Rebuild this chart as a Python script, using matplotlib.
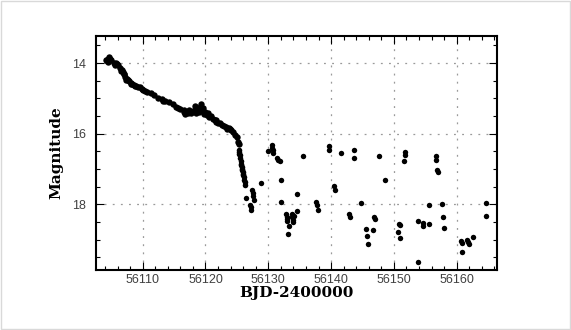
import matplotlib.pyplot as plt
from matplotlib.ticker import MultipleLocator
from matplotlib.patches import Rectangle

# dense part of the light curve (outburst decline)
bjd_dense = [56104.19, 56104.42, 56104.59, 56104.77, 56104.88, 56104.48, 56104.30,
             56105.47, 56105.64, 56105.76, 56106.05, 56105.90,
             56106.34, 56106.63, 56106.80, 56107.03, 56107.21, 56107.50, 56107.79,
             56108.08, 56108.37, 56108.66, 56108.95, 56109.53, 56110.12, 56110.70,
             56111.28, 56111.86, 56112.44, 56113.02, 56113.60, 56114.19, 56114.77,
             56115.35, 56115.93, 56116.51, 56116.80, 56117.09, 56117.38, 56117.67,
             56117.97, 56118.26, 56118.55, 56118.84, 56119.13, 56119.24, 56119.42,
             56119.71, 56120.00, 56120.29, 56120.58, 56120.87, 56121.16, 56121.45,
             56121.74, 56122.03, 56122.33, 56122.62, 56122.91, 56123.20, 56123.49,
             56123.78, 56124.07, 56124.36, 56124.65, 56124.94, 56125.23, 56125.29,
             56116.60, 56117.20, 56118.40, 56118.90, 56119.30, 56119.60, 56120.40,
             56110.40, 56113.30, 56115.60, 56107.40, 56121.60, 56123.90,
             56106.50, 56106.95, 56107.65, 56108.20, 56108.80, 56109.20, 56109.90]
mag_dense = [13.91, 13.87, 13.84, 13.87, 13.90, 13.96, 13.92,
             14.01, 14.04, 14.01, 14.06, 14.03,
             14.15, 14.20, 14.25, 14.31, 14.39, 14.44, 14.50,
             14.56, 14.60, 14.63, 14.65, 14.69, 14.75, 14.81,
             14.86, 14.91, 14.98, 15.03, 15.08, 15.10, 15.16,
             15.24, 15.30, 15.38, 15.43, 15.38, 15.34, 15.41,
             15.35, 15.32, 15.41, 15.29, 15.24, 15.16, 15.34,
             15.43, 15.38, 15.48, 15.52, 15.51, 15.57, 15.62,
             15.67, 15.71, 15.70, 15.76, 15.79, 15.81, 15.86,
             15.83, 15.90, 15.95, 16.05, 16.09, 16.23, 16.30,
             15.33, 15.42, 15.22, 15.38, 15.30, 15.28, 15.42,
             14.78, 15.06, 15.28, 14.47, 15.60, 15.88,
             14.22, 14.30, 14.49, 14.58, 14.64, 14.68, 14.73]

# steep drop
bjd_drop = [56125.30, 56125.35, 56125.40, 56125.47, 56125.52, 56125.58, 56125.64,
            56125.70, 56125.76, 56125.82, 56125.87, 56125.93, 56125.99, 56126.05,
            56126.10, 56126.16, 56126.22, 56126.28]
mag_drop = [16.47, 16.52, 16.57, 16.61, 16.70, 16.78, 16.85, 16.90, 16.95, 17.00,
            17.04, 17.09, 17.13, 17.18, 17.23, 17.30, 17.38, 17.45]

# sparse quiescent points
bjd_sparse = [56126.50, 56127.40, 56127.50, 56127.60, 56127.65, 56127.15, 56127.20,
              56127.30, 56128.80, 56130.00, 56130.55, 56130.65, 56130.75, 56130.80,
              56131.45, 56131.60, 56131.90, 56132.10, 56132.10, 56132.80, 56132.90,
              56133.05, 56132.95, 56133.25, 56133.20, 56133.70, 56133.80, 56133.95,
              56134.10, 56134.00, 56134.65, 56134.60, 56135.60, 56137.60, 56137.70,
              56137.90, 56139.65, 56139.65, 56140.50, 56140.60, 56141.60, 56142.80,
              56142.95, 56143.70, 56143.70, 56144.70, 56145.60, 56145.75, 56145.90,
              56146.60, 56146.90, 56146.95, 56147.70, 56148.60, 56150.80, 56150.95,
              56150.70, 56150.90, 56151.60, 56151.70, 56151.80, 56153.90, 56153.90,
              56154.60, 56154.70, 56155.60, 56155.60, 56156.70, 56156.75, 56156.90,
              56156.95, 56157.60, 56157.80, 56157.90, 56160.70, 56160.80, 56160.90,
              56161.70, 56161.85, 56162.00, 56162.60, 56164.65, 56164.70]
mag_sparse = [17.82, 17.59, 17.68, 17.78, 17.87, 18.03, 18.09,
              18.16, 17.39, 16.50, 16.33, 16.40, 16.47, 16.55,
              16.68, 16.74, 16.78, 17.30, 17.95, 18.27, 18.35,
              18.42, 18.48, 18.62, 18.84, 18.27, 18.36, 18.45,
              18.32, 18.50, 17.70, 18.18, 16.64, 17.93, 18.02,
              18.17, 16.35, 16.45, 17.47, 17.60, 16.56, 18.27,
              18.35, 16.47, 16.69, 17.96, 18.70, 18.89, 19.14,
              18.73, 18.35, 18.41, 16.64, 17.30, 18.57, 18.58,
              18.79, 18.96, 16.76, 16.61, 16.52, 19.64, 18.48,
              18.54, 18.63, 18.03, 18.55, 16.63, 16.74, 17.04,
              17.09, 18.00, 18.35, 18.67, 19.03, 19.10, 19.36,
              19.00, 19.08, 19.12, 18.93, 17.96, 18.34]

fig = plt.figure(figsize=(5.71, 3.30), dpi=100)
ax = fig.add_axes([0.1676, 0.1833, 0.7034, 0.7077])

for xs, ys, ms in [(bjd_dense, mag_dense, 4.6), (bjd_drop, mag_drop, 4.0),
                   (bjd_sparse, mag_sparse, 3.9)]:
    ax.plot(xs, ys, "o", color="black", markersize=ms, markeredgewidth=0)

ax.set_xlim(56102.52, 56166.47)
ax.set_ylim(19.85, 13.23)
ax.xaxis.set_major_locator(MultipleLocator(10))
ax.xaxis.set_minor_locator(MultipleLocator(2))
ax.yaxis.set_major_locator(MultipleLocator(2))
ax.yaxis.set_minor_locator(MultipleLocator(0.5))

ax.tick_params(which="both", direction="in", top=True, right=True, width=0.8)
ax.tick_params(which="major", length=5.8, labelsize=9, labelcolor="#404040")
ax.tick_params(axis="x", which="major", pad=3)
ax.tick_params(axis="y", which="major", pad=7)
ax.tick_params(which="minor", length=2.9)
for lab in ax.get_xticklabels() + ax.get_yticklabels():
    lab.set_family("Liberation Sans")
for s in ax.spines.values():
    s.set_linewidth(1.5)

ax.grid(True, which="major", color="#9a9a9a", linestyle=(0, (1.5, 5)), linewidth=0.9)

ax.set_xlabel("BJD-2400000", family="DejaVu Serif", fontweight="bold", fontsize=11, labelpad=0)
ax.set_ylabel("Magnitude", family="DejaVu Serif", fontweight="bold", fontsize=11, labelpad=6)

# thin light frame around the whole picture
fig.patches.append(Rectangle((0.002, 0.002), 0.996, 0.994, transform=fig.transFigure,
                             fill=False, edgecolor="#d9d9d9", linewidth=1))

fig.savefig("out.png", dpi=100)
